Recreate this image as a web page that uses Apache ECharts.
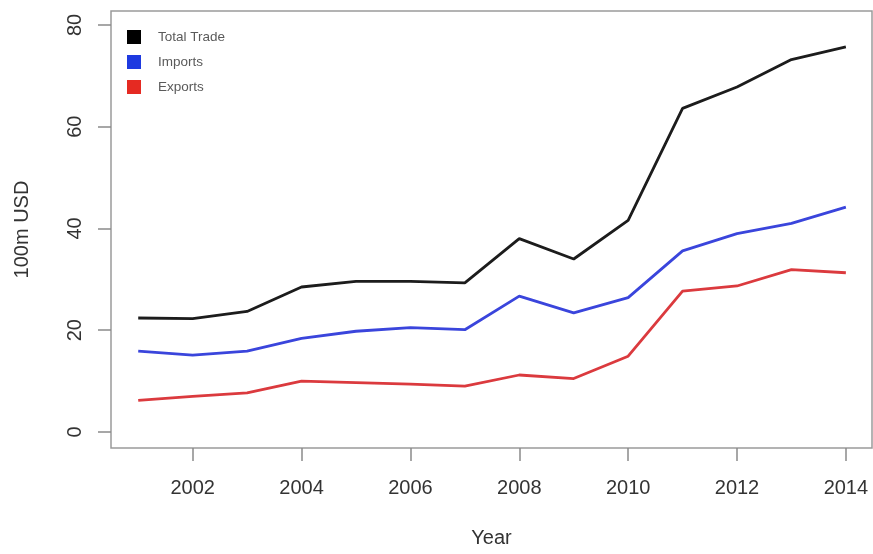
<!DOCTYPE html>
<html>
<head>
<meta charset="utf-8">
<script src="https://cdn.jsdelivr.net/npm/echarts@6/dist/echarts.min.js"></script>
<style>
  html, body { margin: 0; padding: 0; background: #fff; }
  #chart { width: 873px; height: 554px; }
</style>
</head>
<body>
<div id="chart"></div>
<script>
// Trade values, in 100m USD
const years = [2001, 2002, 2003, 2004, 2005, 2006, 2007, 2008, 2009, 2010, 2011, 2012, 2013, 2014];
const totalTrade = [22.4, 22.3, 23.7, 28.5, 29.6, 29.6, 29.3, 38.0, 34.0, 41.6, 63.6, 67.8, 73.2, 75.7];
const imports    = [15.9, 15.1, 15.9, 18.4, 19.8, 20.5, 20.1, 26.7, 23.4, 26.4, 35.6, 39.0, 41.0, 44.2];
const exports    = [6.2, 7.0, 7.7, 10.0, 9.7, 9.4, 9.0, 11.2, 10.5, 14.9, 27.7, 28.7, 31.9, 31.3];

const xTicks = [2002, 2004, 2006, 2008, 2010, 2012, 2014];
const yTicks = [0, 20, 40, 60, 80];

const seriesNames = ['Total Trade', 'Imports', 'Exports'];
const seriesColors = ['#1c1c1c', '#3a45dc', '#db3a3e'];
const legendColors = ['#000000', '#1e3ae0', '#e52a22'];

const pairs = vals => years.map((y, i) => [y, vals[i]]);

const font = 'Liberation Sans, Arial, Helvetica, sans-serif';
const textColor = '#333333';

const chart = echarts.init(document.getElementById('chart'), null, { renderer: 'canvas' });

chart.setOption({
  backgroundColor: '#ffffff',
  animation: false,
  grid: {
    left: 111, top: 11, width: 761, height: 437,
    show: true, borderColor: '#9a9a9a', borderWidth: 1.5,
    backgroundColor: 'transparent'
  },
  legend: {
    orient: 'vertical',
    left: 122, top: 25,
    icon: 'rect',
    itemWidth: 14, itemHeight: 14,
    itemGap: 11,
    textStyle: { fontFamily: font, fontSize: 13.5, color: '#5a5a5a', padding: [0, 0, 0, 12] },
    data: seriesNames.map((n, i) => ({ name: n, itemStyle: { color: legendColors[i] } }))
  },
  xAxis: {
    type: 'value',
    min: 2000.5, max: 2014.48,
    splitLine: { show: false },
    axisLine: { show: false, onZero: false },
    axisTick: { show: true, inside: false, length: 13, customValues: xTicks,
      lineStyle: { color: '#8a8a8a', width: 1.5 } },
    axisLabel: { customValues: xTicks, margin: 30, fontFamily: font, fontSize: 20,
      color: textColor, formatter: v => String(v) },
    name: 'Year',
    nameLocation: 'middle',
    nameGap: 80,
    nameTextStyle: { fontFamily: font, fontSize: 20, color: textColor }
  },
  yAxis: {
    type: 'value',
    min: -3.15, max: 82.75,
    splitLine: { show: false },
    axisLine: { show: false, onZero: false },
    axisTick: { show: true, inside: false, length: 13, customValues: yTicks,
      lineStyle: { color: '#8a8a8a', width: 1.5 } },
    axisLabel: { customValues: yTicks, rotate: 90, margin: 26, fontFamily: font,
      fontSize: 20, color: textColor },
    name: '100m USD',
    nameLocation: 'middle',
    nameRotate: 90,
    nameGap: 79,
    nameTextStyle: { fontFamily: font, fontSize: 20, color: textColor }
  },
  series: [totalTrade, imports, exports].map((vals, i) => ({
    name: seriesNames[i],
    type: 'line',
    data: pairs(vals),
    symbol: 'none',
    smooth: false,
    lineStyle: { color: seriesColors[i], width: 2.8 },
    itemStyle: { color: legendColors[i] }
  }))
});
</script>
</body>
</html>
